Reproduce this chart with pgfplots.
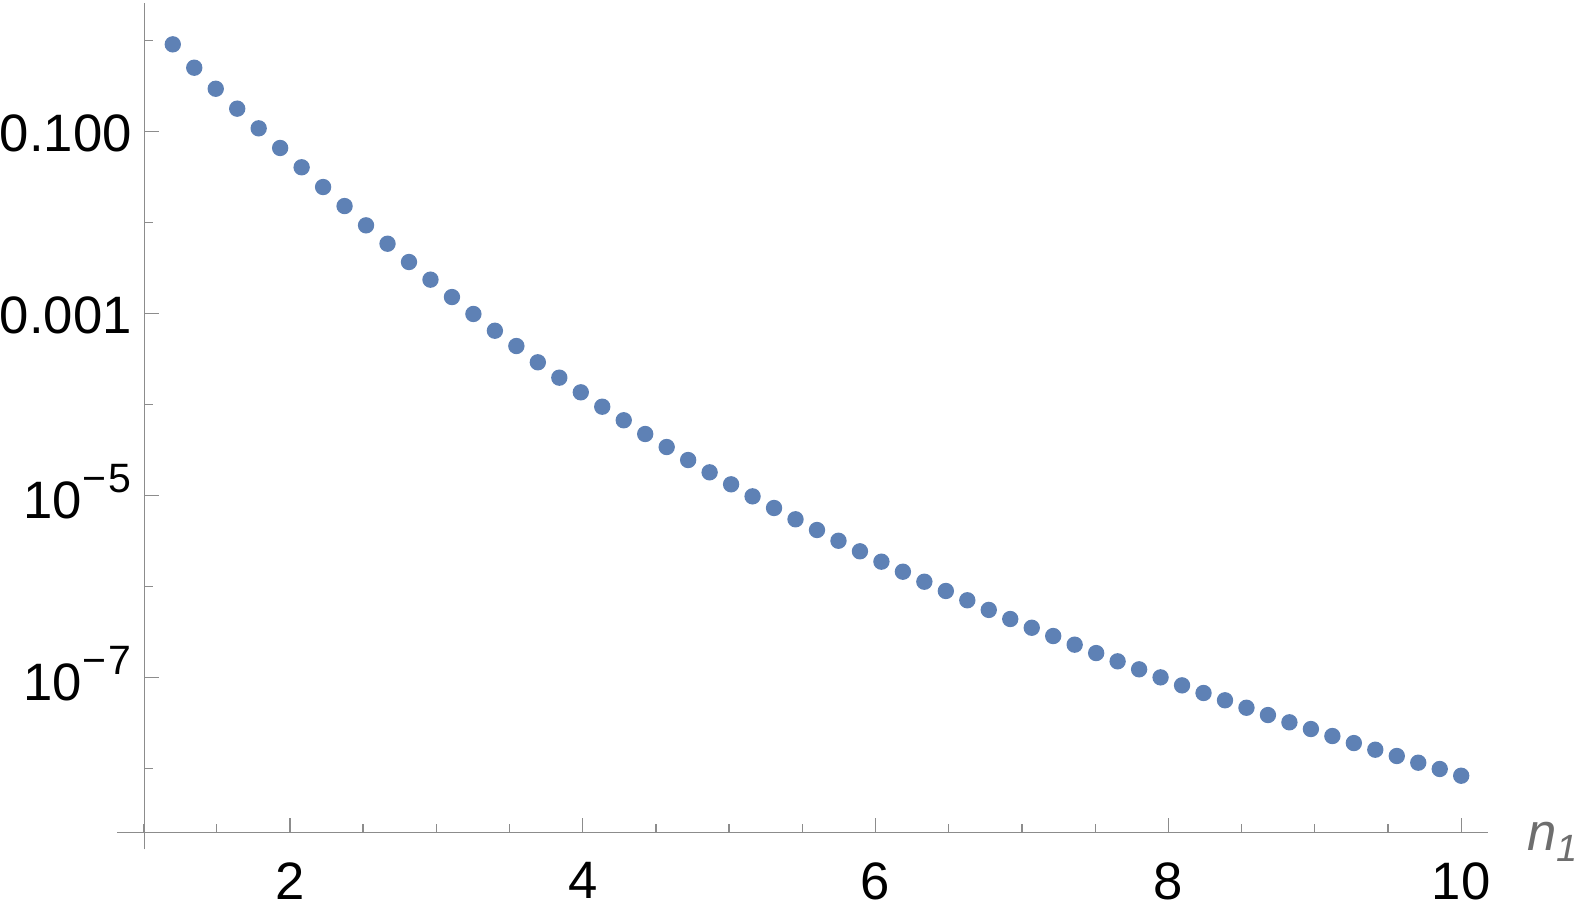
\documentclass[border=0pt]{standalone}
\usepackage{pgfplots}
\pgfplotsset{compat=1.18}
\usepackage{pgfplotstable}
\usepackage{fontspec}
\setmainfont{Liberation Sans}
\definecolor{axisgray}{HTML}{8C8C8C}
\definecolor{labelgray}{HTML}{6E6E6E}
\definecolor{ptblue}{HTML}{5E81B5}
\newcommand{\tenpow}[1]{\raisebox{-1pt}{10\kern0.2pt\raisebox{7.7pt}{\fontsize{12.3pt}{12.3pt}\selectfont −\kern0.66pt#1}}}

\pgfplotstableread{
x y
1.2000 9.120e-1
1.3467 5.047e-1
1.4933 2.965e-1
1.6400 1.791e-1
1.7867 1.089e-1
1.9333 6.622e-2
2.0800 4.064e-2
2.2267 2.466e-2
2.3733 1.524e-2
2.5200 9.354e-3
2.6667 5.875e-3
2.8133 3.698e-3
2.9600 2.366e-3
3.1067 1.524e-3
3.2533 9.931e-4
3.4000 6.501e-4
3.5467 4.416e-4
3.6933 2.924e-4
3.8400 1.982e-4
3.9867 1.368e-4
4.1333 9.506e-5
4.2800 6.745e-5
4.4267 4.764e-5
4.5733 3.428e-5
4.7200 2.466e-5
4.8667 1.807e-5
5.0133 1.334e-5
5.1600 9.840e-6
5.3067 7.328e-6
5.4533 5.508e-6
5.6000 4.198e-6
5.7467 3.199e-6
5.8933 2.449e-6
6.0400 1.884e-6
6.1867 1.462e-6
6.3333 1.135e-6
6.4800 8.974e-7
6.6267 7.096e-7
6.7733 5.559e-7
6.9200 4.416e-7
7.0667 3.540e-7
7.2133 2.871e-7
7.3600 2.307e-7
7.5067 1.866e-7
7.6533 1.514e-7
7.8000 1.236e-7
7.9467 1.009e-7
8.0933 8.241e-8
8.2400 6.792e-8
8.3867 5.649e-8
8.5333 4.677e-8
8.6800 3.890e-8
8.8267 3.236e-8
8.9733 2.729e-8
9.1200 2.286e-8
9.2667 1.914e-8
9.4133 1.618e-8
9.5600 1.380e-8
9.7067 1.164e-8
9.8533 9.931e-9
10.000 8.375e-9
}\datatable

\begin{document}
\begin{tikzpicture}
\begin{axis}[
  scale only axis,
  width=411.3pt, height=254pt,
  xmin=0.821, xmax=10.185,
  ymode=log,
  ymin=1.300e-9, ymax=2.616,
  axis x line=bottom,
  axis y line=left,
  axis x line shift=-4.98pt,
  axis y line shift=-8.1pt,
  axis line style={-, draw=axisgray, line width=0.4pt},
  tick align=inside,
  tick style={draw=axisgray, line width=0.4pt},
  major tick length=4.5pt,
  minor tick length=2.5pt,
  xtick={2,4,6,8,10},
  xticklabels={2,4,6,8,10},
  minor xtick={1,1.5,2.5,3,3.5,4.5,5,5.5,6.5,7,7.5,8.5,9,9.5},
  ytick={1e-1,1e-3,1e-5,1e-7},
  yticklabels={0.100,0.001,\tenpow{5},\tenpow{7}},
  minor ytick={1,1e-2,1e-4,1e-6,1e-8},
  ticklabel style={font=\fontsize{15.8pt}{15.8pt}\selectfont, text=black, inner sep=0pt},
  xticklabel style={anchor=north, yshift=-8.7pt},
  yticklabel style={anchor=base east, xshift=-3.6pt, yshift=-5.8pt},
  xlabel={\textit{n}\raisebox{-3.5pt}{\fontsize{11.4pt}{11.4pt}\selectfont\textit{1}}},
  xlabel style={at={(rel axis cs:1,0)}, anchor=base west, xshift=11.5pt, yshift=-0.2pt,
    inner sep=0pt, text=labelgray, font=\fontsize{15.8pt}{15.8pt}\selectfont},
  clip=false,
]
\addplot[only marks, mark=*, mark size=2.25pt, color=ptblue, mark options={draw=ptblue, fill=ptblue}] table[x=x, y=y] {\datatable};
\end{axis}
\pgfresetboundingbox
\useasboundingbox ([xshift=-35.19pt,yshift=-20.01pt]current axis.south west) rectangle ([xshift=26.91pt,yshift=0.81pt]current axis.north east);
\end{tikzpicture}
\end{document}
